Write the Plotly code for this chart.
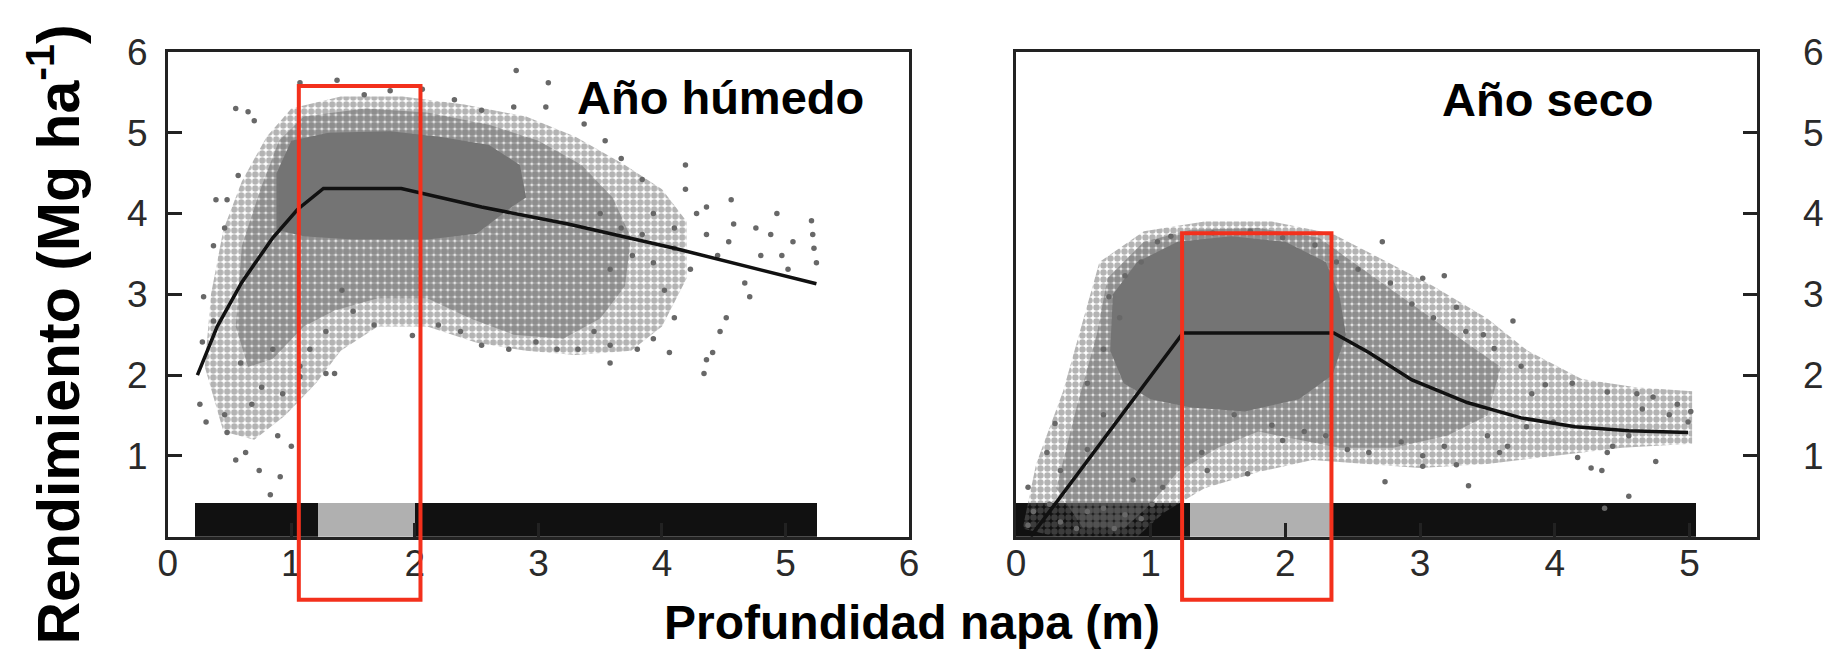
import plotly.graph_objects as go

W, H = 1837, 651

# ---------------- data: wet year (left) ----------------
wet_line_x = [0.24, 0.40, 0.60, 0.85, 1.05, 1.26, 1.89, 2.54, 3.24, 4.10, 5.25]
wet_line_y = [2.00, 2.60, 3.15, 3.70, 4.05, 4.31, 4.31, 4.08, 3.87, 3.57, 3.13]

wet_core_x = [0.88, 0.88, 1.00, 1.30, 1.80, 2.20, 2.60, 2.85, 2.90, 2.80, 2.50, 2.10, 1.50, 1.10]
wet_core_y = [3.80, 4.50, 4.90, 5.00, 5.02, 4.95, 4.85, 4.60, 4.20, 4.10, 3.75, 3.68, 3.68, 3.72]

wet_inner_x = [0.55, 0.60, 0.75, 0.90, 1.10, 1.60, 2.10, 2.60, 3.00, 3.35, 3.60, 3.75, 3.70, 3.50,
               3.20, 2.80, 2.45, 2.10, 1.70, 1.35, 1.10, 0.85, 0.65]
wet_inner_y = [2.60, 3.60, 4.30, 4.90, 5.20, 5.30, 5.25, 5.10, 4.90, 4.60, 4.20, 3.70, 3.10, 2.70,
               2.45, 2.50, 2.70, 2.95, 2.95, 2.80, 2.60, 2.20, 2.10]

wet_outer_x = [0.30, 0.35, 0.45, 0.60, 0.80, 1.00, 1.40, 1.90, 2.40, 2.90, 3.30, 3.70, 4.00, 4.20,
               4.20, 4.00, 3.75, 3.30, 2.90, 2.50, 2.10, 1.70, 1.40, 1.20, 0.95, 0.70, 0.45]
wet_outer_y = [2.10, 3.00, 3.80, 4.40, 4.95, 5.30, 5.45, 5.45, 5.35, 5.20, 4.95, 4.60, 4.30, 3.90,
               3.20, 2.60, 2.30, 2.25, 2.30, 2.40, 2.60, 2.60, 2.30, 1.90, 1.50, 1.20, 1.30]

wet_pts_x = [0.55, 0.65, 0.70, 0.57, 0.48, 0.39, 0.37, 0.46, 0.29, 0.37, 0.28, 0.26, 0.31, 0.46, 0.48, 0.55,
             0.63, 0.74, 0.83, 0.91, 1.00, 0.89, 0.68, 0.76, 0.93, 1.07, 1.28, 1.35, 0.59, 0.85,
             1.07, 1.37, 1.59, 1.80, 2.06, 2.82, 3.08, 3.06, 2.80, 2.54, 2.32, 3.37, 3.54, 3.67, 3.84,
             4.19, 4.19, 4.36, 4.56, 4.76, 4.93, 5.06, 5.21, 5.22, 5.23, 5.25, 5.02, 4.80, 4.54, 4.36,
             4.10, 3.93, 4.45, 4.67, 4.71, 4.52, 4.47, 4.36, 4.34, 4.41, 4.02, 4.10, 3.93, 4.06, 3.80,
             3.58, 3.58, 3.45, 3.32, 3.15, 2.98, 2.76, 2.54, 2.37, 2.19, 1.98, 1.67, 1.50, 1.41, 1.28,
             1.15, 1.07, 3.58, 3.76, 3.93, 4.23, 4.10, 3.84, 3.67, 3.50, 4.28, 4.58, 4.88, 4.97]
wet_pts_y = [5.30, 5.26, 5.15, 4.47, 4.17, 4.17, 3.60, 3.82, 2.97, 2.67, 2.41, 1.64, 1.42, 1.51, 1.29, 0.95,
             1.04, 0.82, 0.52, 0.74, 1.12, 1.25, 1.64, 1.85, 1.77, 2.11, 2.02, 2.02, 2.15, 2.32,
             5.62, 5.65, 5.47, 5.52, 5.54, 5.77, 5.62, 5.32, 5.32, 5.28, 5.41, 5.11, 4.90, 4.68, 4.42,
             4.60, 4.30, 4.08, 4.17, 3.82, 4.00, 3.65, 3.91, 3.74, 3.57, 3.39, 3.31, 3.48, 3.65, 3.74,
             3.82, 4.00, 3.48, 3.14, 2.97, 2.71, 2.54, 2.19, 2.02, 2.28, 3.05, 2.71, 2.45, 2.28, 2.32,
             2.15, 2.37, 2.54, 2.32, 2.32, 2.41, 2.32, 2.37, 2.54, 2.62, 2.49, 2.62, 2.79, 3.05, 2.54,
             2.32, 1.98, 3.31, 3.48, 3.39, 3.31, 3.57, 3.74, 3.82, 4.00, 4.00, 3.87, 3.74, 3.48]

wet_bar_start = [0.22, 1.21, 2.00]
wet_bar_end = [1.21, 2.00, 5.25]
wet_bar_color = ["#111111", "#b0b0b0", "#111111"]

# ---------------- data: dry year (right) ----------------
dry_line_x = [0.11, 0.67, 1.24, 2.36, 2.62, 2.94, 3.35, 3.75, 4.15, 4.55, 4.99]
dry_line_y = [0.00, 1.25, 2.52, 2.52, 2.28, 1.94, 1.66, 1.47, 1.36, 1.31, 1.29]

dry_core_x = [0.70, 0.72, 0.90, 1.20, 1.60, 2.00, 2.30, 2.40, 2.45, 2.35, 2.10, 1.70, 1.30, 1.00, 0.80]
dry_core_y = [2.30, 3.00, 3.40, 3.65, 3.72, 3.65, 3.40, 3.00, 2.50, 2.00, 1.70, 1.55, 1.60, 1.70, 1.90]

dry_inner_x = [0.30, 0.45, 0.60, 0.68, 0.95, 1.30, 1.80, 2.25, 2.50, 2.75, 3.00, 3.30, 3.60, 3.50,
               3.20, 2.80, 2.40, 2.10, 1.80, 1.50, 1.20, 1.00, 0.80, 0.50]
dry_inner_y = [0.60, 1.60, 2.50, 3.20, 3.65, 3.80, 3.82, 3.70, 3.40, 3.10, 2.80, 2.45, 2.10, 1.50,
               1.25, 1.10, 1.10, 1.20, 1.30, 1.10, 0.80, 0.40, 0.10, 0.10]

dry_outer_x = [0.05, 0.15, 0.35, 0.50, 0.62, 0.95, 1.40, 1.90, 2.35, 2.70, 3.10, 3.50, 3.80, 4.20,
               4.60, 5.02, 5.02, 4.50, 4.00, 3.50, 3.00, 2.60, 2.20, 1.80, 1.40, 1.10, 0.90, 0.30]
dry_outer_y = [0.10, 0.90, 1.80, 2.70, 3.40, 3.78, 3.90, 3.90, 3.75, 3.45, 3.10, 2.70, 2.30, 1.95,
               1.85, 1.80, 1.15, 1.10, 1.00, 0.90, 0.85, 0.90, 0.95, 0.80, 0.60, 0.30, 0.00, 0.00]

dry_pts_x = [2.72, 3.18, 3.02, 3.27, 3.69, 3.47, 3.93, 4.13, 4.39, 4.61, 4.73, 4.91, 5.01, 4.99, 4.85,
             4.65, 4.55, 4.43, 4.39, 4.17, 4.27, 4.35, 4.75, 4.55, 4.37, 3.36, 2.74, 3.02, 3.27, 3.59,
             3.79, 3.99, 3.65, 3.50, 3.18, 3.02, 2.86, 2.62, 2.46, 2.30, 2.14, 1.98, 1.72, 1.42, 1.38,
             1.90, 1.62, 1.09, 0.87, 0.29, 0.23, 0.09, 0.33, 0.53, 0.65, 0.53, 0.65, 0.77, 0.69, 0.81,
             0.93, 1.05, 1.15, 1.46, 1.74, 1.98, 2.22, 2.38, 2.54, 2.78, 2.94, 3.10, 3.34, 3.55, 3.75,
             3.83, 0.13, 0.33, 0.53, 0.73, 0.93, 0.45, 0.25, 0.09, 0.65, 0.81, 1.01]
dry_pts_y = [3.65, 3.23, 3.20, 2.84, 2.67, 2.50, 1.88, 1.90, 1.79, 1.77, 1.73, 1.64, 1.55, 1.42, 1.51,
             1.58, 1.25, 1.12, 1.04, 0.98, 0.85, 0.82, 0.93, 0.50, 0.35, 0.63, 0.68, 0.87, 0.89, 1.04,
             1.36, 1.42, 1.12, 1.25, 1.12, 1.00, 1.17, 1.04, 1.08, 1.25, 1.30, 1.19, 0.78, 0.82, 1.04,
             1.38, 1.51, 0.61, 0.70, 1.40, 1.04, 0.61, 0.82, 1.08, 1.51, 1.90, 2.32, 2.71, 2.97, 3.23,
             3.40, 3.65, 3.72, 3.76, 3.78, 3.70, 3.61, 3.40, 3.31, 3.14, 2.88, 2.71, 2.54, 2.33, 2.11,
             1.77, 0.31, 0.18, 0.31, 0.10, 0.22, 0.10, 0.40, 0.14, 0.35, 0.27, 0.40]

dry_bar_start = [0.00, 1.29, 2.34]
dry_bar_end = [1.29, 2.34, 5.05]
dry_bar_color = ["#111111", "#b0b0b0", "#111111"]

BAR_TOP = 0.42
X_TICKS_WET = [0, 1, 2, 3, 4, 5, 6]
X_TICKS_DRY = [0, 1, 2, 3, 4, 5]
Y_TICKS = [1, 2, 3, 4, 5, 6]

DOT = "rgb(104,104,104)"
CORE = "rgb(116,116,116)"

fig = go.Figure()


def closed(xs, ys):
    return list(xs) + [xs[0]], list(ys) + [ys[0]]


def add_panel(xa, ya, bs, be, bc, outer, inner, core, pts, line):
    fig.add_trace(go.Bar(
        x=[(s + e) / 2 for s, e in zip(bs, be)], y=[BAR_TOP] * len(bs),
        width=[e - s for s, e in zip(bs, be)], marker=dict(color=bc, line=dict(width=0)),
        xaxis=xa, yaxis=ya, hoverinfo="skip", showlegend=False))
    # sparse outer halo, denser inner halo, then the solid core of the cloud
    for poly, size, solid in [(outer, 7, 0.66), (inner, 7, 0.88)]:
        px, py = closed(*poly)
        fig.add_trace(go.Scatter(
            x=px, y=py, mode="lines", fill="toself", line=dict(width=0),
            fillcolor="rgba(0,0,0,0)",
            fillpattern=dict(shape=".", size=size, solidity=solid, fgcolor=DOT),
            xaxis=xa, yaxis=ya, hoverinfo="skip", showlegend=False))
    px, py = closed(*core)
    fig.add_trace(go.Scatter(
        x=px, y=py, mode="lines", fill="toself", line=dict(width=0), fillcolor=CORE,
        xaxis=xa, yaxis=ya, hoverinfo="skip", showlegend=False))
    fig.add_trace(go.Scatter(
        x=pts[0], y=pts[1], mode="markers", marker=dict(size=5.5, color=DOT),
        xaxis=xa, yaxis=ya, hoverinfo="skip", showlegend=False))
    fig.add_trace(go.Scatter(
        x=line[0], y=line[1], mode="lines", line=dict(color="#111111", width=3.5),
        xaxis=xa, yaxis=ya, hoverinfo="skip", showlegend=False))


add_panel("x", "y", wet_bar_start, wet_bar_end, wet_bar_color,
          (wet_outer_x, wet_outer_y), (wet_inner_x, wet_inner_y),
          (wet_core_x, wet_core_y), (wet_pts_x, wet_pts_y), (wet_line_x, wet_line_y))
add_panel("x2", "y2", dry_bar_start, dry_bar_end, dry_bar_color,
          (dry_outer_x, dry_outer_y), (dry_inner_x, dry_inner_y),
          (dry_core_x, dry_core_y), (dry_pts_x, dry_pts_y), (dry_line_x, dry_line_y))

TICK_FONT = dict(family="Liberation Sans, Arial, sans-serif", size=37, color="#2a2a2a")
AX = dict(showline=True, mirror=True, linecolor="#222222", linewidth=2.5, ticks="inside",
          ticklen=14, tickwidth=2.5, tickcolor="#222222", showgrid=False, zeroline=False,
          tickfont=TICK_FONT, fixedrange=True)

Y_DOM = [(H - 533) / H, (H - 33) / H]
fig.update_layout(
    width=W, height=H, margin=dict(l=0, r=0, t=0, b=0),
    paper_bgcolor="white", plot_bgcolor="white", bargap=0,
    xaxis=dict(AX, domain=[159.5 / W, 909 / W], range=[0, 6], tickvals=X_TICKS_WET,
               ticklabelstandoff=-8),
    yaxis=dict(AX, domain=Y_DOM, range=[0, 6], tickvals=Y_TICKS, ticklabelstandoff=10),
    xaxis2=dict(AX, domain=[1017 / W, 1766 / W], range=[0, 5.5], tickvals=X_TICKS_DRY,
                anchor="y2", ticklabelstandoff=-8),
    yaxis2=dict(AX, domain=Y_DOM, range=[0, 6], tickvals=Y_TICKS, anchor="x2",
                side="right", ticklabelstandoff=36),
)

TITLE_FONT = dict(family="Liberation Sans, Arial, sans-serif", size=47, color="black")
fig.add_annotation(x=571 / W, y=(H - 80) / H, xref="paper", yref="paper", text="<b>Año húmedo</b>",
                   showarrow=False, xanchor="left", yanchor="middle", font=TITLE_FONT)
fig.add_annotation(x=1446 / W, y=(H - 82) / H, xref="paper", yref="paper", text="<b>Año seco</b>",
                   showarrow=False, xanchor="left", yanchor="middle", font=TITLE_FONT)
fig.add_annotation(x=912 / W, y=0, xref="paper", yref="paper",
                   text="<b>Profundidad napa (m)</b>", showarrow=False,
                   xanchor="center", yanchor="bottom",
                   font=dict(family="Liberation Sans, Arial, sans-serif", size=48, color="black"))
fig.add_annotation(x=45 / W, y=(H - 325) / H, xref="paper", yref="paper",
                   text="<b>Rendimiento (Mg ha<sup>-1</sup>)</b>", showarrow=False, textangle=-90,
                   xanchor="center", yanchor="middle",
                   font=dict(family="Liberation Sans, Arial, sans-serif", size=59, color="black"))

# highlighted depth ranges
RED = "#f3301c"
for x0, x1, y0, y1 in [(292, 415, 598, 68), (1185, 1336, 598, 220)]:
    fig.add_shape(type="rect", xref="paper", yref="paper",
                  x0=x0 / W, x1=x1 / W, y0=(H - y0) / H, y1=(H - y1) / H,
                  line=dict(color=RED, width=4), fillcolor="rgba(0,0,0,0)")

fig.write_html("out.html")
